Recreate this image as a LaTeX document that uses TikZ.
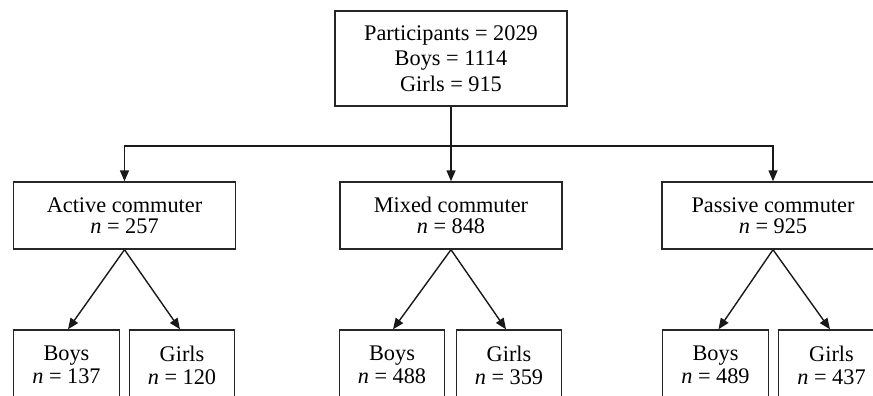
\documentclass[tikz,border=0pt]{standalone}
\usepackage{fontspec}
\setmainfont{Liberation Serif}
\usetikzlibrary{arrows.meta}
\begin{document}
\begin{tikzpicture}[x=1pt,y=-1pt,
  box/.style={draw=black!85,line width=1.4pt,rectangle,inner sep=0pt,align=center},
  topbox/.style={box,minimum width=232pt,minimum height=95pt,font=\fontsize{22.3}{25.5}\selectfont},
  midbox/.style={box,minimum width=222pt,minimum height=67pt,font=\fontsize{22.3}{20.5}\selectfont},
  kidbox/.style={box,minimum width=105.5pt,minimum height=70pt,font=\fontsize{22.3}{23}\selectfont},
  arr/.style={draw=black!90,line width=1.4pt,-{Triangle[length=11pt,width=9pt]}}]
\useasboundingbox (0,0) rectangle (873,396);
\clip (0,0) rectangle (873,396);
\node[topbox] (top) at (451,58.5) {Participants = 2029\\Boys = 1114\\Girls = 915};
\coordinate (j) at (451,146);
\node[midbox] (active) at (124.5,215.5) {Active commuter\\\textit{n} = 257};
\node[midbox] (mixed) at (451,215.5) {Mixed commuter\\\textit{n} = 848};
\node[midbox] (passive) at (773,215.5) {Passive commuter\\\textit{n} = 925};
\node[kidbox] (aboys) at (66.5,365) {Boys\\\textit{n} = 137};
\node[kidbox] (agirls) at (182,365) {Girls\\\textit{n} = 120};
\node[kidbox] (mboys) at (392,365) {Boys\\\textit{n} = 488};
\node[kidbox] (mgirls) at (509,365) {Girls\\\textit{n} = 359};
\node[kidbox] (pboys) at (715.5,365) {Boys\\\textit{n} = 489};
\node[kidbox] (pgirls) at (831.5,365) {Girls\\\textit{n} = 437};
\draw[arr] (top.south) -- (mixed.north);
\draw[arr] (j) -| (active.north);
\draw[arr] (j) -| (passive.north);
\draw[arr] (active.south) -- ([xshift=1.5pt]aboys.north);
\draw[arr] (active.south) -- ([xshift=-2pt]agirls.north);
\draw[arr] (mixed.south) -- ([xshift=1pt]mboys.north);
\draw[arr] (mixed.south) -- ([xshift=-3pt]mgirls.north);
\draw[arr] (passive.south) -- ([xshift=3pt]pboys.north);
\draw[arr] (passive.south) -- ([xshift=-1.5pt]pgirls.north);
\end{tikzpicture}
\end{document}
